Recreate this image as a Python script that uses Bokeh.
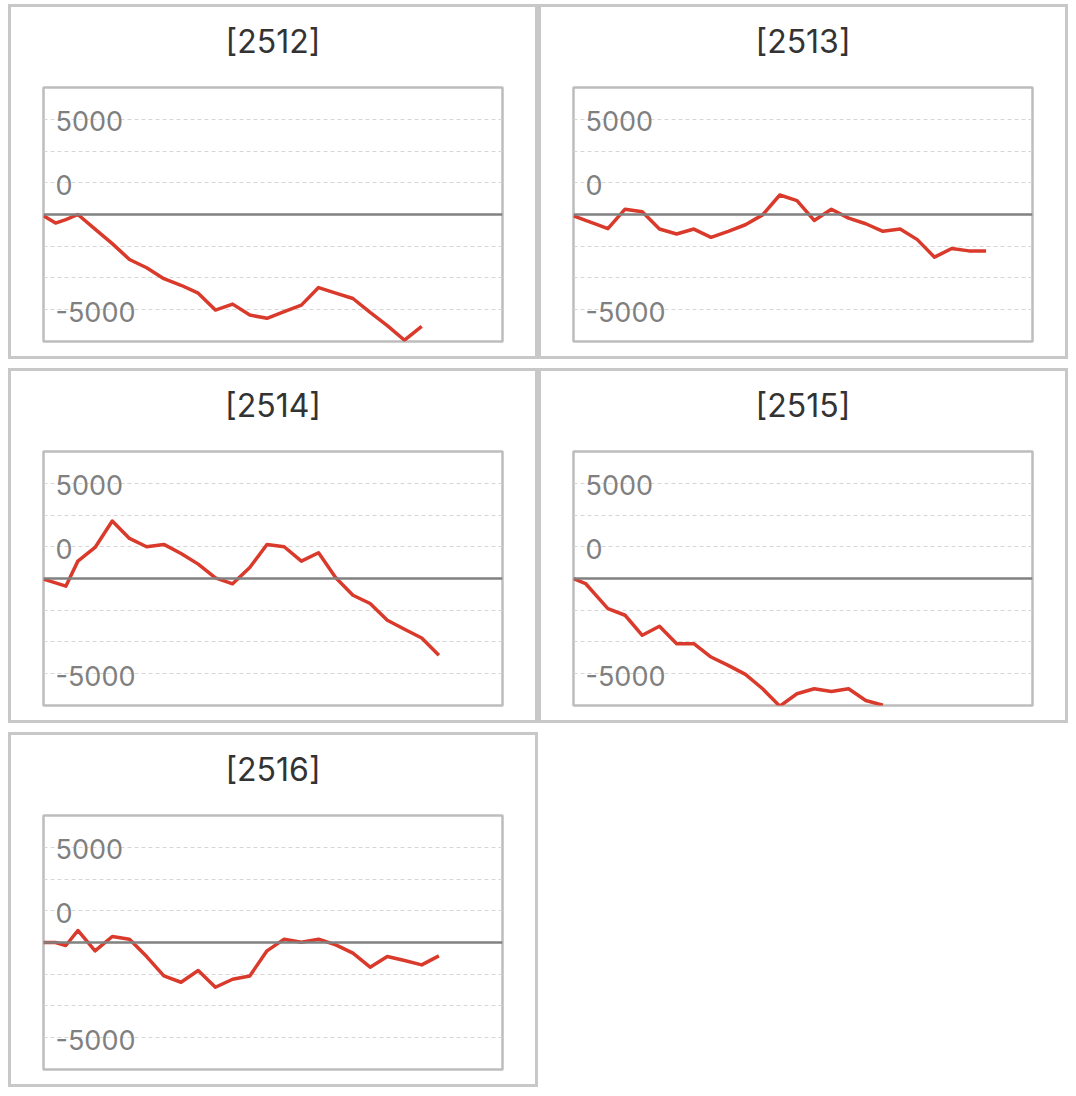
from bokeh.plotting import figure
from bokeh.layouts import column, row
from bokeh.models import Range1d, FixedTicker, Span, ColumnDataSource, Title
from bokeh.core.properties import value
from bokeh.embed import file_html
from bokeh.resources import INLINE

# x positions of the samples (first three are irregularly spaced)
X_POS = [0, 0.7, 1.3, 2, 3, 4, 5, 6, 7, 8, 9, 10, 11, 12, 13, 14, 15, 16,
         17, 18, 19, 20, 21, 22, 23, 24]

NAMES = ["[2512]", "[2513]", "[2514]", "[2515]", "[2516]"]

S2512 = [-70, -451, -271, 0, -764, -1528, -2361, -2795, -3368, -3715, -4132,
         -5017, -4705, -5278, -5451, -5104, -4757, -3837, -4132, -4410, -5139,
         -5833, -6600, -5868]
S2513 = [-70, -312, -503, -746, 278, 139, -764, -1024, -764, -1198, -885,
         -538, -20, 1024, 729, -312, 278, -191, -486, -885, -764, -1319,
         -2240, -1788, -1910, -1910]
S2514 = [-35, -228, -403, 912, 1631, 3017, 2105, 1666, 1789, 1315, 754, 35,
         -281, 579, 1789, 1666, 912, 1350, 35, -877, -1315, -2192, -2666,
         -3122, -4034]
S2515 = [0, -263, -877, -1579, -1929, -2982, -2508, -3420, -3420, -4122,
         -4560, -5034, -5788, -6700, -6051, -5788, -5929, -5788, -6402, -6650]
S2516 = [0, 0, -158, 631, -438, 316, 175, -737, -1754, -2087, -1473, -2350,
         -1929, -1754, -438, 175, 18, 175, -123, -561, -1298, -737, -947,
         -1175, -702]

SERIES = [S2512, S2513, S2514, S2515, S2516]

GRID_TICKS = [-5000, -3333.33, -1666.67, 1666.67, 3333.33, 5000]
LABEL_VALUES = [5000, 1666.67, -5000]
LABEL_TEXTS = ["5000", "0", "-5000"]
Y_MIN, Y_MAX = -6667, 6667
X_MIN, X_MAX = 0, 26.7

FONT = "Inter"


def make_panel(name, ys):
    p = figure(width=530, height=355, x_range=Range1d(X_MIN, X_MAX),
               y_range=Range1d(Y_MIN, Y_MAX), output_backend="svg",
               toolbar_location=None, min_border_left=32, min_border_right=39,
               min_border_top=80, min_border_bottom=21)
    p.styles = {"border": "3px solid #c8c8c8"}
    # spacer between the title and the plot frame
    p.add_layout(Title(text=" ", text_font=FONT, text_font_size="10px",
                       standoff=8), "above")
    p.add_layout(Title(text=name, align="center", text_font=FONT,
                       text_font_size="32px", text_font_style="normal",
                       text_color="#333333", standoff=10), "above")
    p.xaxis.visible = False
    p.yaxis.visible = False
    p.xgrid.visible = False
    p.ygrid.ticker = FixedTicker(ticks=GRID_TICKS)
    p.ygrid.grid_line_color = "#d6d6d6"
    p.ygrid.grid_line_dash = "4 3"
    p.ygrid.grid_line_width = 1
    p.outline_line_color = "#bdbdbd"
    p.outline_line_width = 2.5
    p.outline_line_alpha = 1
    p.background_fill_color = "white"
    p.border_fill_color = "white"

    p.add_layout(Span(location=0, dimension="width", line_color="#808080",
                      line_width=2.5))

    lab = ColumnDataSource(dict(x=[0.7] * len(LABEL_VALUES), y=LABEL_VALUES,
                                t=LABEL_TEXTS))
    p.text(x="x", y="y", text="t", source=lab, text_font=value(FONT),
           text_font_size="27px", text_color="#808080",
           text_baseline="middle", text_align="left", y_offset=2)

    src = ColumnDataSource(dict(x=X_POS[:len(ys)], y=ys))
    p.line(x="x", y="y", source=src, line_color="#d93a2b", line_width=3.5,
           line_join="round")
    return p


panels = [make_panel(n, s) for n, s in zip(NAMES, SERIES)]

layout = column(row(panels[0], panels[1]), row(panels[2], panels[3]),
                row(panels[4]), spacing=9, margin=(4, 0, 0, 8))

open("out.html", "w").write(file_html(layout, INLINE))
